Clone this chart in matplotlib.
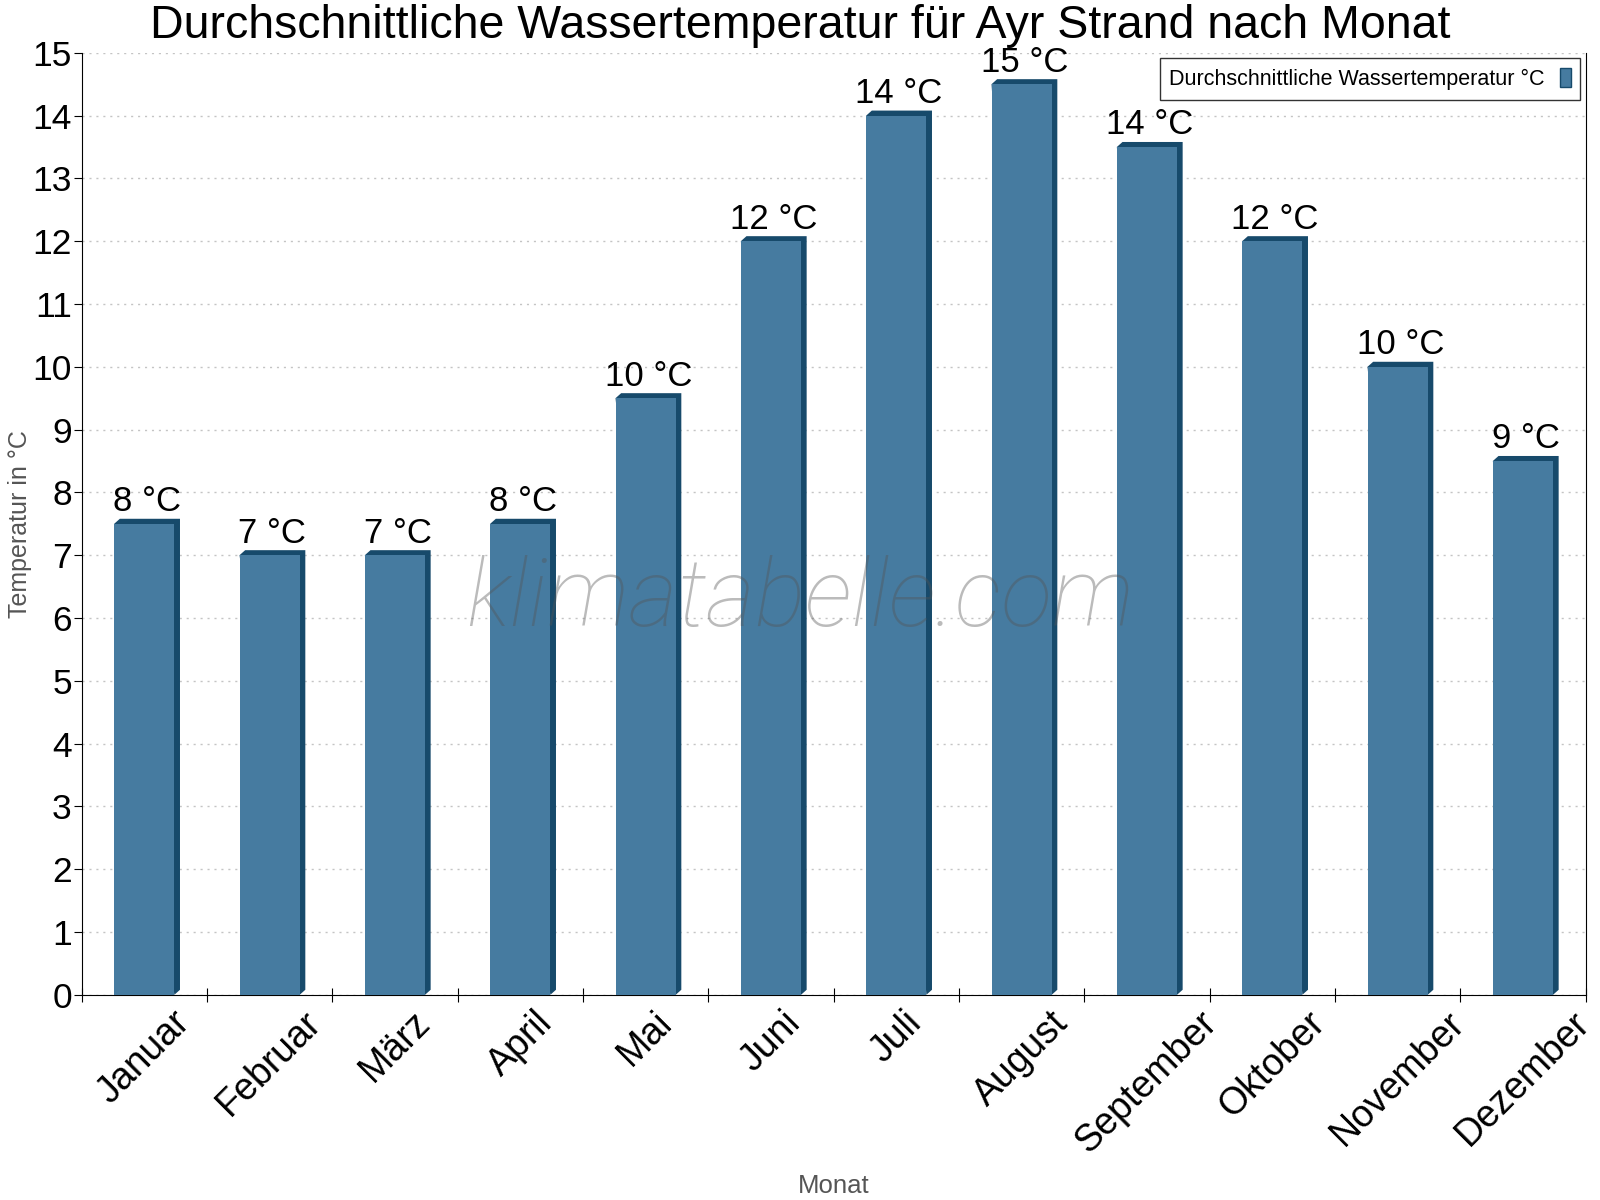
import matplotlib
matplotlib.use("Agg")
import matplotlib.pyplot as plt
from matplotlib.patches import Polygon, Patch

# Daten
monate = ["Januar", "Februar", "März", "April", "Mai", "Juni",
          "Juli", "August", "September", "Oktober", "November", "Dezember"]
wassertemp = [7.5, 7.0, 7.0, 7.5, 9.5, 12.0, 14.0, 14.5, 13.5, 12.0, 10.0, 8.5]
beschriftung = ["8 °C", "7 °C", "7 °C", "8 °C", "10 °C", "12 °C",
                "14 °C", "15 °C", "14 °C", "12 °C", "10 °C", "9 °C"]
y_ticks = list(range(0, 16))

FRONT = "#467ba0"
SIDE = "#174a6b"

plt.rcParams["font.family"] = ["Liberation Sans", "DejaVu Sans"]

fig = plt.figure(figsize=(16, 12), dpi=100)
ax = fig.add_axes([0.051, 0.171, 0.94, 0.785])

breite = 0.48
dx, dy = 0.045, 0.08
for i, v in enumerate(wassertemp):
    x0, x1 = i - breite / 2, i + breite / 2
    # 3D-Effekt: dunkle Ober- und Seitenflaeche
    ax.add_patch(Polygon(
        [(x0, v), (x0 + dx, v + dy), (x1 + dx, v + dy), (x1 + dx, dy), (x1, 0)],
        closed=True, facecolor=SIDE, edgecolor="none", zorder=2))
    ax.text(i + dx / 2, v + dy + 0.01, beschriftung[i], ha="center",
            va="bottom", fontsize=25, zorder=4)

ax.bar(range(len(monate)), wassertemp, width=breite, color=FRONT, zorder=3)

ax.set_xlim(-0.5, len(monate) - 0.5)
ax.set_ylim(0, 15)
ax.set_yticks(y_ticks)
ax.set_yticklabels([str(t) for t in y_ticks], fontsize=25.5)

# Ticks an den Kategoriegrenzen, Beschriftung in der Mitte
ax.set_xticks([i - 0.5 for i in range(len(monate) + 1)])
ax.set_xticklabels([])
ax.set_xticks(range(len(monate)), minor=True)
ax.set_xticklabels(monate, minor=True, fontsize=27, rotation=45, ha="center")
ax.tick_params(axis="x", which="minor", length=0, pad=7)
ax.tick_params(axis="x", which="major", length=10, direction="inout")
ax.tick_params(axis="y", length=6, direction="out", pad=1)

ax.grid(axis="y", linestyle=(0, (1.5, 3.5)), color="#c4c4c4", linewidth=1)
ax.set_axisbelow(True)
ax.spines["top"].set_visible(False)

fig.text(0.5, 0.968,
         "Durchschnittliche Wassertemperatur für Ayr Strand nach Monat",
         fontsize=33.5, ha="center", va="baseline")
ax.set_ylabel("Temperatur in °C", fontsize=18, color="#555555")
ax.yaxis.set_label_coords(-0.033, 0.5)
ax.set_xlabel("Monat", fontsize=18.5, color="#555555")
ax.xaxis.set_label_coords(0.5, -0.19)

leg = ax.legend(handles=[Patch(facecolor=FRONT, edgecolor=SIDE,
                               label="Durchschnittliche Wassertemperatur °C")],
                loc="upper right", fontsize=15.5, markerfirst=False,
                frameon=True, fancybox=False, handlelength=0.5,
                handleheight=1.0, handletextpad=0.7, borderaxespad=0.25,
                borderpad=0.45)
leg.get_frame().set_edgecolor("black")
leg.get_frame().set_linewidth(1)

fig.text(0.5, 0.5, "klimatabelle.com", fontsize=68, family=["Roboto"],
         fontweight="light", style="italic", color="#555555", alpha=0.4,
         ha="center", va="center", zorder=10)

fig.savefig("out.png", dpi=100)
